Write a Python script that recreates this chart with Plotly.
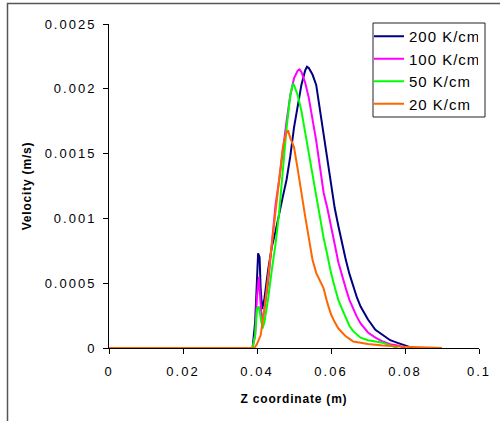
import plotly.graph_objects as go

# ---- data ----
series_names = ["200 K/cm", "100 K/cm", "50 K/cm", "20 K/cm"]
series_colors = ["#000080", "#FF00FF", "#00FF00", "#FF6600"]

z_200 = [0, 0.0388, 0.0395, 0.0400, 0.0403, 0.0407, 0.0410, 0.0414, 0.042, 0.043, 0.044, 0.045,
         0.046, 0.047, 0.048, 0.049, 0.050, 0.051, 0.052, 0.053, 0.0535, 0.054, 0.055, 0.056,
         0.057, 0.058, 0.059, 0.060, 0.061, 0.062, 0.063, 0.064, 0.065, 0.066, 0.067, 0.068,
         0.069, 0.070, 0.072, 0.074, 0.076, 0.078, 0.080, 0.082]
v_200 = [0, 0, 0.0002, 0.0006, 0.00073, 0.0007, 0.00045, 0.0003, 0.00038, 0.0006, 0.00078, 0.0009,
         0.00105, 0.00117, 0.0013, 0.00148, 0.0017, 0.00188, 0.00203, 0.00214, 0.00217, 0.00216, 0.00211, 0.00203,
         0.00184, 0.00163, 0.00145, 0.00125, 0.00108, 0.00094, 0.0008, 0.00068, 0.00057, 0.00047, 0.00039, 0.00032,
         0.00027, 0.00022, 0.00014, 0.0001, 0.00006, 0.00004, 0.00002, 0]

z_100 = [0, 0.0388, 0.0395, 0.0400, 0.0405, 0.0409, 0.0413, 0.042, 0.043, 0.044, 0.045, 0.046,
         0.047, 0.048, 0.049, 0.050, 0.051, 0.0515, 0.052, 0.053, 0.054, 0.055, 0.056, 0.057,
         0.058, 0.059, 0.060, 0.061, 0.062, 0.063, 0.064, 0.065, 0.066, 0.067, 0.068, 0.069,
         0.070, 0.072, 0.074, 0.076, 0.078, 0.080]
v_100 = [0, 0, 0.0001, 0.0004, 0.00055, 0.0004, 0.0002, 0.0003, 0.0005, 0.0008, 0.0011, 0.0013,
         0.00155, 0.00175, 0.00195, 0.00208, 0.00214, 0.00215, 0.00213, 0.00205, 0.00193, 0.00178, 0.0016, 0.0014,
         0.0012, 0.00108, 0.00095, 0.0008, 0.00066, 0.00055, 0.00046, 0.00037, 0.0003, 0.00024, 0.00019, 0.00015,
         0.00012, 0.00008, 0.00005, 0.00003, 0.00002, 0]

z_50 = [0, 0.0388, 0.0395, 0.0400, 0.0405, 0.0410, 0.0415, 0.042, 0.043, 0.044, 0.045, 0.046,
        0.047, 0.048, 0.049, 0.0497, 0.050, 0.051, 0.052, 0.053, 0.054, 0.055, 0.056, 0.057,
        0.058, 0.059, 0.060, 0.061, 0.062, 0.063, 0.064, 0.065, 0.066, 0.068, 0.070, 0.072,
        0.074, 0.076, 0.078]
v_50 = [0, 0, 0.0001, 0.0003, 0.00032, 0.00022, 0.00015, 0.0002, 0.00038, 0.0006, 0.0008, 0.00105,
        0.0014, 0.0017, 0.00195, 0.00204, 0.00203, 0.00195, 0.00183, 0.00167, 0.0015, 0.00134, 0.00116, 0.001,
        0.00085, 0.00072, 0.00058, 0.00047, 0.00037, 0.0003, 0.00023, 0.00017, 0.00013, 0.00008, 0.00006, 0.00005,
        0.00004, 0.00002, 0]

z_20 = [0, 0.0393, 0.040, 0.041, 0.042, 0.043, 0.044, 0.045, 0.046, 0.047, 0.0478, 0.0484,
        0.049, 0.050, 0.051, 0.052, 0.053, 0.054, 0.055, 0.056, 0.057, 0.058, 0.059, 0.060,
        0.061, 0.062, 0.063, 0.064, 0.065, 0.066, 0.068, 0.070, 0.074, 0.080, 0.090]
v_20 = [0, 0, 0.00003, 0.0001, 0.0003, 0.00055, 0.00075, 0.00105, 0.0013, 0.00155, 0.00165, 0.00168,
        0.00162, 0.00155, 0.00138, 0.00118, 0.00102, 0.00085, 0.00068, 0.00058, 0.00052, 0.00046, 0.00035, 0.00026,
        0.0002, 0.00015, 0.00012, 0.00009, 0.00007, 0.00005, 0.00004, 0.00003, 0.00002, 0.00001, 0]

x_ticks = [0, 0.02, 0.04, 0.06, 0.08, 0.1]
x_tick_labels = ["0", "0.02", "0.04", "0.06", "0.08", "0.1"]
y_ticks = [0, 0.0005, 0.001, 0.0015, 0.002, 0.0025]
y_tick_labels = ["0", "0.0005", "0.001", "0.0015", "0.002", "0.0025"]

FONT = "Arial, Liberation Sans, sans-serif"

# plot area: x 109..479 px, y 24..348 px
def px_x(p):
    return (p - 109) / 370.0

def px_y(p):
    return (348 - p) / 324.0

fig = go.Figure()
for name, color, zs, vs in zip(series_names, series_colors,
                               [z_200, z_100, z_50, z_20], [v_200, v_100, v_50, v_20]):
    fig.add_trace(go.Scatter(x=zs, y=vs, mode="lines", name=name,
                             line=dict(color=color, width=2)))

fig.update_layout(
    width=500, height=421,
    margin=dict(l=109, r=21, t=24, b=73),
    paper_bgcolor="white", plot_bgcolor="white",
    font=dict(family=FONT, size=13, color="#000"),
    showlegend=True,
    legend=dict(x=px_x(369), y=px_y(20), xanchor="left", yanchor="top",
                borderwidth=0, bgcolor="rgba(0,0,0,0)",
                font=dict(size=15, color="#000"), itemwidth=30,
                tracegroupgap=0),
    xaxis=dict(range=[0, 0.1], tickvals=x_ticks, ticktext=x_tick_labels,
               showgrid=False, zeroline=False, showline=True, linecolor="#000", linewidth=1,
               ticks="outside", ticklen=5, tickcolor="#000", ticklabelstandoff=6,
               title=dict(text="<b>Z coordinate (m)</b>", font=dict(size=12, color="#000"), standoff=17)),
    yaxis=dict(range=[0, 0.0025], tickvals=y_ticks, ticktext=y_tick_labels,
               showgrid=False, zeroline=False, showline=True, linecolor="#000", linewidth=1,
               ticks="outside", ticklen=5, tickcolor="#000", ticklabelstandoff=4,
               title=dict(text="<b>Velocity (m/s)</b>", font=dict(size=12, color="#000"), standoff=22)),
    shapes=[
        # outer frame (only left and top edges fall inside the image)
        dict(type="rect", xref="paper", yref="paper", x0=px_x(7.5), x1=px_x(800), y0=px_y(800), y1=px_y(3.5),
             line=dict(color="#555", width=1.5), fillcolor="rgba(0,0,0,0)", layer="below"),
        # legend box
        dict(type="rect", xref="paper", yref="paper", x0=px_x(373), x1=px_x(485), y0=px_y(117), y1=px_y(23),
             line=dict(color="#222", width=1), fillcolor="white", layer="above"),
    ],
)

post = """
document.body.style.margin = '0';
document.body.style.overflow = 'hidden';
var st = document.createElement('style');
st.textContent = '.xtick text, .ytick text {letter-spacing: 2px;} ' +
                 '.legendtext {letter-spacing: 1px;} ' +
                 '.xtitle, .ytitle {letter-spacing: 0.8px;}';
document.head.appendChild(st);
var fr = document.createElement('div');
fr.style.cssText = 'position:absolute;left:7px;top:3px;width:700px;height:700px;' +
                   'border-left:1px solid #555;border-top:1px solid #555;pointer-events:none;';
document.body.appendChild(fr);
"""

fig.write_html("out.html", post_script=post, config={"displayModeBar": False})
